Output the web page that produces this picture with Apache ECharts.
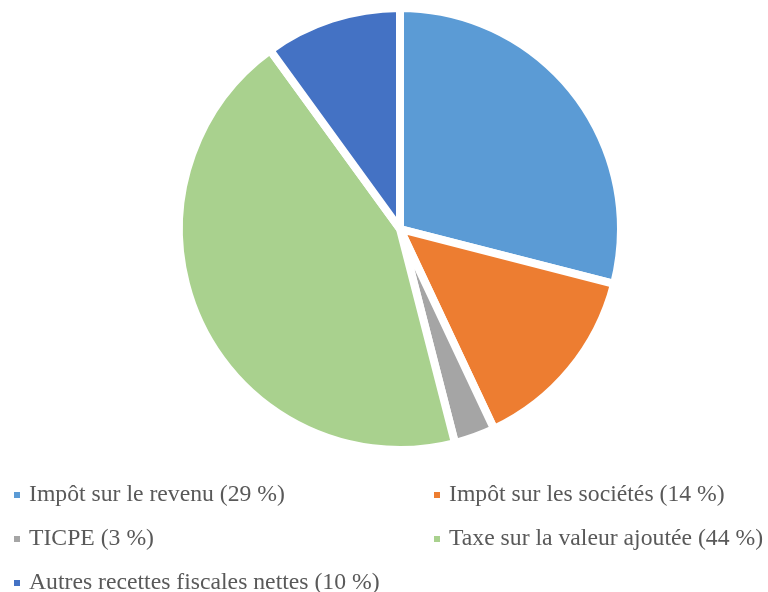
<!DOCTYPE html>
<html><head><meta charset="utf-8">
<script src="https://cdn.jsdelivr.net/npm/echarts@6/dist/echarts.min.js"></script>
<style>html,body{margin:0;padding:0;background:#fff}#c{width:768px;height:592px}</style>
</head><body><div id="c"></div>
<script>
const categories = ["Impôt sur le revenu", "Impôt sur les sociétés", "TICPE", "Taxe sur la valeur ajoutée", "Autres recettes fiscales nettes"];
const values = [29, 14, 3, 44, 10];
const colors = ["#5B9BD5", "#ED7D31", "#A5A5A5", "#A9D18E", "#4472C4"];

const names = categories.map((c, i) => c + " (" + values[i] + " %)");
const chart = echarts.init(document.getElementById('c'));
const legendText = {color: '#595959', fontFamily: "'Liberation Serif', serif", fontSize: 23.7, lineHeight: 24, padding: [0, 0, 0, 3]};
const legendBase = {orient: 'vertical', top: 483, height: 130, itemGap: 20, itemWidth: 8, itemHeight: 8, icon: 'rect', padding: 0, textStyle: legendText, selectedMode: false};
chart.setOption({
  animation: false,
  color: colors,
  legend: [
    Object.assign({left: 12, data: [names[0], names[2], names[4]]}, legendBase),
    Object.assign({left: 432, data: [names[1], names[3]]}, legendBase)
  ],
  series: [{
    type: 'pie',
    center: [400, 229],
    radius: 221,
    startAngle: 90,
    clockwise: true,
    label: {show: false},
    labelLine: {show: false},
    itemStyle: {borderColor: '#fff', borderWidth: 8},
    emphasis: {disabled: true},
    data: names.map((n, i) => ({name: n, value: values[i]}))
  }]
});
</script></body></html>
